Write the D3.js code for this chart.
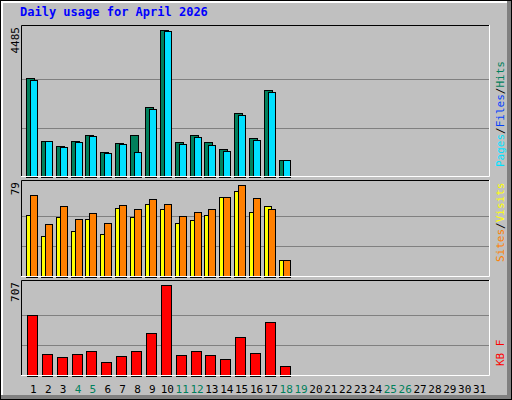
<!DOCTYPE html>
<html>
<head>
<meta charset="utf-8">
<script src="https://cdn.jsdelivr.net/npm/d3@7"></script>
<style>
  body { margin: 0; background: #fff; }
  text { font-family: "DejaVu Sans Mono", monospace; }
</style>
</head>
<body>
<div id="chart"></div>
<script>
// Daily usage data, April 2026
const days = d3.range(1, 32)
const weekends = [4, 5, 11, 12, 18, 19, 25, 26]
const hits   = [3025, 1086, 934, 1086, 1269, 752, 1025, 1269, 2121, 4485, 1056, 1269, 1056, 843, 1938, 1178, 2638, 508]
const pages  = [2964, 1086, 895, 1047, 1229, 712, 986, 742, 2081, 4455, 986, 1199, 955, 773, 1868, 1108, 2599, 508]
const sites  = [53, 35, 51, 39, 50, 37, 59, 51, 63, 58, 46, 49, 53, 69, 74, 56, 61, 14]
const visits = [70, 45, 61, 50, 55, 46, 62, 58, 67, 63, 52, 56, 58, 69, 79, 68, 58, 14]
const kbytes = [474, 171, 148, 171, 194, 109, 155, 194, 334, 707, 163, 194, 163, 132, 303, 179, 420, 78]

const width = 512
const height = 400
const left = 21, right = 490

const svg = d3.select('#chart').append('svg')
  .attr('width', width).attr('height', height)

// background and bevel
svg.append('rect').attr('x', 0.5).attr('y', 0.5).attr('width', 511).attr('height', 399)
  .attr('fill', '#808080').attr('stroke', '#000')
svg.append('rect').attr('x', 1).attr('y', 1).attr('width', 506).attr('height', 394).attr('fill', '#C0C0C0')
svg.append('path').attr('d', 'M2,395V2H507').attr('fill', 'none').attr('stroke', '#fff').attr('stroke-width', 2)

svg.append('text').text('Daily usage for April 2026')
  .attr('x', 20).attr('y', 16)
  .attr('fill', '#0000FF').attr('font-weight', 'bold').attr('font-size', 12)

const x = d3.scaleBand().domain(days).range([left + 5, right - 3])

const panels = [
  { top: 25, bottom: 177, max: 4485, bars: [{ v: hits, c: '#00805C', dx: -7.5, w: 8 }, { v: pages, c: '#00E0FF', dx: -3.5, w: 7 }] },
  { top: 180, bottom: 277, max: 79, bars: [{ v: sites, c: '#FFFF00', dx: -7.5, w: 7 }, { v: visits, c: '#FF8000', dx: -3.5, w: 7 }] },
  { top: 280, bottom: 376, max: 707, bars: [{ v: kbytes, c: '#FF0000', dx: -6.5, w: 10 }] }
]

panels.forEach(p => {
  const y = d3.scaleLinear().domain([0, p.max]).range([p.bottom - 0.5, p.top + 5])
  const g = svg.append('g')
  g.append('rect').attr('x', left).attr('y', p.top).attr('width', right - left).attr('height', p.bottom - p.top)
    .attr('fill', '#C0C0C0')
  ;[p.max / 3, p.max * 2 / 3].forEach(t => {
    g.append('line').attr('x1', left).attr('x2', right)
      .attr('y1', Math.round(y(t)) + 0.5).attr('y2', Math.round(y(t)) + 0.5)
      .attr('stroke', '#808080')
  })
  p.bars.forEach(b => {
    g.selectAll(null).data(b.v).enter().append('rect')
      .attr('x', (d, i) => Math.round(x(i + 1) + x.bandwidth() / 2 + b.dx) + 0.5)
      .attr('y', d => Math.round(y(d)) + 0.5)
      .attr('width', b.w)
      .attr('height', d => Math.round(y(0)) - Math.round(y(d)))
      .attr('fill', b.c).attr('stroke', '#000')
  })
  g.append('path').attr('d', `M${left + 0.5},${p.bottom}V${p.top + 0.5}H${right}`)
    .attr('fill', 'none').attr('stroke', '#000')
  g.append('path').attr('d', `M${left},${p.bottom - 0.5}H${right - 0.5}V${p.top}`)
    .attr('fill', 'none').attr('stroke', '#fff')
  g.append('text').text(p.max)
    .attr('transform', `translate(19,${p.top + 2}) rotate(-90)`)
    .attr('text-anchor', 'end').attr('font-size', 11).attr('fill', '#000')
})

// day labels
svg.selectAll('.day').data(days).enter().append('text')
  .attr('x', d => x(d) + x.bandwidth() / 2)
  .attr('y', 393).attr('text-anchor', 'middle').attr('font-size', 11)
  .attr('fill', d => weekends.includes(d) ? '#00805C' : '#000')
  .text(d => d)

// right-side legends
const legend = (yEnd, parts) => {
  const t = svg.append('text')
    .attr('transform', `translate(504,${yEnd}) rotate(-90)`)
    .attr('font-size', 11)
  parts.forEach(([s, c]) => t.append('tspan').text(s).attr('fill', c))
}
legend(167, [['Pages', '#00E0FF'], ['/', '#000'], ['Files', '#0040FF'], ['/', '#000'], ['Hits', '#00805C']])
legend(262, [['Sites', '#FF8000'], ['/', '#000'], ['Visits', '#FFFF00']])
legend(366, [['KB', '#FF0000'], [' F', '#FF0000']])
</script>
</body>
</html>
